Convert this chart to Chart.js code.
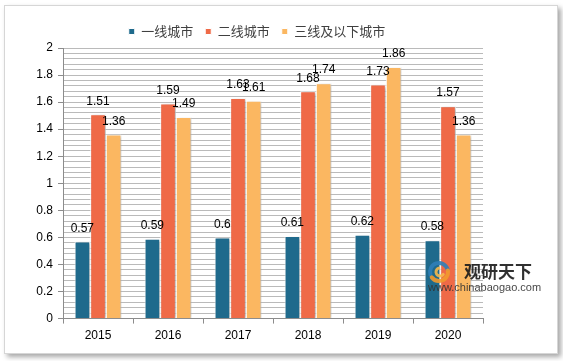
<!DOCTYPE html>
<html>
<head>
<meta charset="utf-8">
<script src="https://cdn.jsdelivr.net/npm/chart.js@4/dist/chart.umd.min.js"></script>
<style>
    html, body { margin: 0; padding: 0; background: #ffffff; }
    body { width: 563px; height: 361px; position: relative; overflow: hidden; }
    .card {
        position: absolute; left: 4px; top: 5px; width: 552px; height: 347px;
        background: #ffffff; border: 1px solid #d6d6d6;
        box-shadow: 3px 3px 5px rgba(0, 0, 0, 0.35);
    }
    .wrap { position: absolute; left: 0; top: 0; width: 563px; height: 361px; }
</style>
</head>
<body>
<div class="card"></div>
<div class="wrap"><canvas id="cityChart" width="563" height="361"></canvas></div>
<script>
// Chart data
const years = ['2015', '2016', '2017', '2018', '2019', '2020'];
const tier1 = [0.57, 0.59, 0.6, 0.61, 0.62, 0.58];
const tier2 = [1.51, 1.59, 1.63, 1.68, 1.73, 1.57];
const tier3 = [1.36, 1.49, 1.61, 1.74, 1.86, 1.36];
const seriesNames = ['一线城市', '二线城市', '三线及以下城市'];
const yTickLabels = ['0', '0.2', '0.4', '0.6', '0.8', '1', '1.2', '1.4', '1.6', '1.8', '2'];

const numFont = "'Liberation Sans', Arial, sans-serif";
const cjkFont = "'Noto Sans CJK SC', 'Noto Sans', sans-serif";

// Shadow behind bars
const barShadow = {
    id: 'barShadow',
    beforeDatasetDraw(chart) {
        const ctx = chart.ctx;
        ctx.save();
        ctx.shadowColor = 'rgba(0, 0, 0, 0.3)';
        ctx.shadowBlur = 3;
        ctx.shadowOffsetX = 2;
        ctx.shadowOffsetY = 1;
    },
    afterDatasetDraw(chart) {
        chart.ctx.restore();
    }
};

// Value labels above bars
const valueLabels = {
    id: 'valueLabels',
    afterDatasetsDraw(chart) {
        const ctx = chart.ctx;
        ctx.save();
        ctx.font = '12px ' + numFont;
        ctx.fillStyle = '#000000';
        ctx.textAlign = 'center';
        ctx.textBaseline = 'bottom';
        chart.data.datasets.forEach((ds, i) => {
            chart.getDatasetMeta(i).data.forEach((bar, j) => {
                ctx.fillText(String(ds.data[j]), bar.x, bar.y - 7);
            });
        });
        ctx.restore();
    }
};

// Watermark in the bottom right corner
const watermark = {
    id: 'watermark',
    afterDraw(chart) {
        const ctx = chart.ctx;
        ctx.save();
        ctx.globalAlpha = 0.9;
        const cx = 439, cy = 272;
        // logo swirl
        ctx.lineCap = 'round';
        ctx.lineWidth = 4;
        ctx.strokeStyle = '#2f7fb8';
        ctx.beginPath();
        ctx.arc(cx, cy, 9, Math.PI * 0.9, Math.PI * 1.9);
        ctx.stroke();
        ctx.strokeStyle = '#f29a2e';
        ctx.beginPath();
        ctx.arc(cx, cy, 9, Math.PI * 1.95, Math.PI * 0.8);
        ctx.stroke();
        ctx.lineWidth = 3;
        ctx.strokeStyle = '#f7b84a';
        ctx.beginPath();
        ctx.arc(cx + 1, cy, 4, Math.PI * 0.2, Math.PI * 1.4);
        ctx.stroke();
        // name
        ctx.fillStyle = '#1a1a1a';
        ctx.font = 'bold 17px ' + cjkFont;
        ctx.textBaseline = 'middle';
        ctx.textAlign = 'left';
        ctx.fillText('观研天下', 464, 272);
        ctx.font = '11px ' + numFont;
        ctx.fillStyle = '#333333';
        ctx.fillText('www.chinabaogao.com', 428, 288);
        ctx.restore();
    }
};

function makeDataset(label, data, color) {
    return {
        label: label,
        data: data,
        backgroundColor: color,
        borderColor: '#ffffff',
        borderWidth: 1,
        categoryPercentage: 0.67,
        barPercentage: 1.0
    };
}

new Chart(document.getElementById('cityChart'), {
    type: 'bar',
    data: {
        labels: years,
        datasets: [
            makeDataset(seriesNames[0], tier1, '#1f6a8c'),
            makeDataset(seriesNames[1], tier2, '#ef6a47'),
            makeDataset(seriesNames[2], tier3, '#fbb761')
        ]
    },
    options: {
        responsive: false,
        animation: false,
        layout: {
            padding: { left: 31, right: 80, top: 13, bottom: 13 }
        },
        plugins: {
            legend: {
                position: 'top',
                labels: {
                    boxWidth: 6,
                    boxHeight: 6,
                    padding: 12,
                    color: '#404040',
                    font: { family: cjkFont, size: 13 }
                }
            },
            tooltip: { enabled: false }
        },
        scales: {
            x: {
                grid: {
                    offset: true,
                    drawOnChartArea: false,
                    tickLength: 5,
                    tickColor: '#8c8c8c'
                },
                border: { color: '#8c8c8c' },
                ticks: {
                    padding: 5,
                    color: '#000000',
                    font: { family: numFont, size: 12 }
                }
            },
            y: {
                min: 0,
                max: 2,
                afterFit(scale) { scale.width = 32; },
                grid: {
                    color: '#bababa',
                    tickLength: 5,
                    tickColor: ctx => (ctx.index % 5 === 0 ? '#8c8c8c' : 'rgba(0,0,0,0)')
                },
                border: { color: '#8c8c8c' },
                ticks: {
                    stepSize: 0.04,
                    autoSkip: false,
                    padding: 5,
                    color: '#000000',
                    font: { family: numFont, size: 12 },
                    callback: (value, index) => (index % 5 === 0 ? yTickLabels[index / 5] : '')
                }
            }
        }
    },
    plugins: [barShadow, valueLabels, watermark]
});
</script>
</body>
</html>
